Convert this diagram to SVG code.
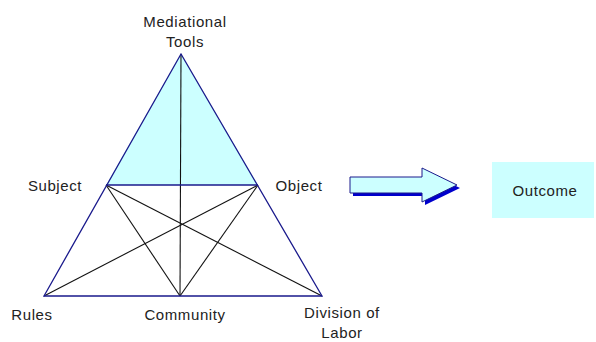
<svg xmlns="http://www.w3.org/2000/svg" width="596" height="342" viewBox="0 0 596 342">
<style>
text{font-family:"Liberation Sans",Arial,sans-serif;font-size:15px;fill:#222;letter-spacing:0.6px}
.blue{stroke:#1a1a8c;stroke-width:1.3;fill:none}
.blk{stroke:#111;stroke-width:1.1;fill:none}
</style>
<rect width="596" height="342" fill="#fff"/>
<g id="shade"><polygon points="181,54 106,185 258,185" fill="#ccffff"/></g>
<g id="connectors">
<line class="blk" x1="181" y1="54" x2="180" y2="296"/>
<line class="blk" x1="106" y1="185" x2="180" y2="296"/>
<line class="blk" x1="106" y1="185" x2="322" y2="296"/>
<line class="blk" x1="258" y1="185" x2="44" y2="296"/>
<line class="blk" x1="258" y1="185" x2="180" y2="296"/>
<line class="blue" x1="106" y1="185" x2="258" y2="185"/>
<polygon class="blue" points="181,54 44,296 322,296"/>
</g>
<g id="mediational-tools"><text x="185" y="27" text-anchor="middle">Mediational</text><text x="185" y="47" text-anchor="middle">Tools</text></g>
<g id="subject"><text x="55" y="191" text-anchor="middle">Subject</text></g>
<g id="object"><text x="299" y="191" text-anchor="middle">Object</text></g>
<g id="rules"><text x="32" y="320" text-anchor="middle">Rules</text></g>
<g id="community"><text x="185" y="320" text-anchor="middle">Community</text></g>
<g id="division"><text x="342" y="318" text-anchor="middle">Division of</text><text x="342" y="338" text-anchor="middle">Labor</text></g>
<g id="arrow">
<polygon points="353,181 425,181 425,171 460,188 425,205 425,196 353,196" fill="#0000cc"/>
<polygon points="350,177 422,177 422,168 457,185 422,202 422,193 350,193" fill="#ccffff" stroke="#1a1a8c" stroke-width="1"/>
</g>
<g id="outcome"><rect x="492" y="162" width="102" height="56" fill="#ccffff"/><text x="545" y="196" text-anchor="middle">Outcome</text></g>
</svg>
